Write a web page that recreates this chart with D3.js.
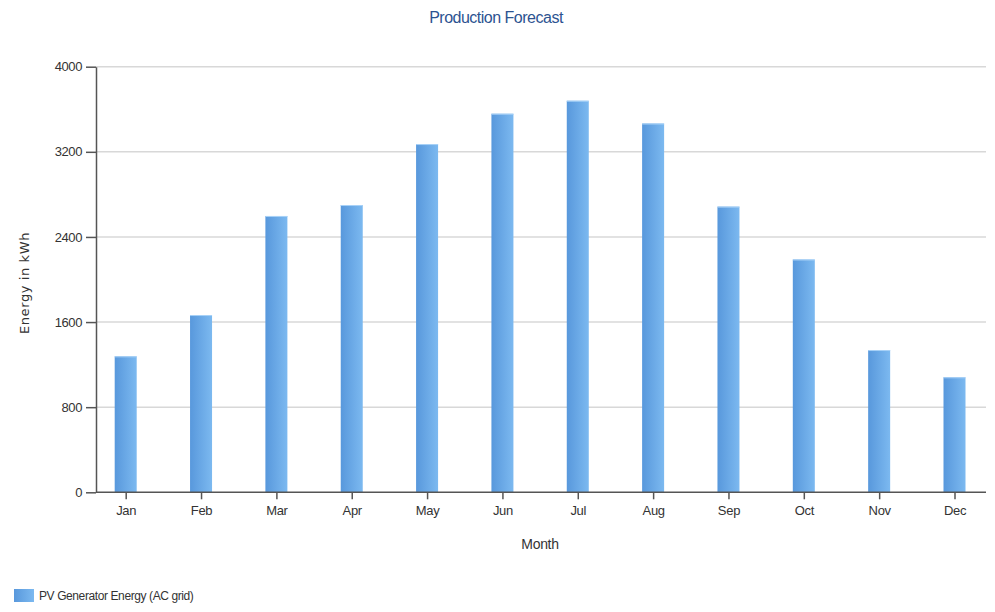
<!DOCTYPE html>
<html>
<head>
<meta charset="utf-8">
<script src="https://cdn.jsdelivr.net/npm/d3@7/dist/d3.min.js"></script>
<style>
  html, body { margin: 0; padding: 0; background: #fff; }
  svg { display: block; }
  text { font-family: "Liberation Sans", Arial, sans-serif; }
</style>
</head>
<body>
<svg id="chart" width="995" height="612"></svg>
<script>
// Monthly PV production forecast (kWh)
const months = ["Jan", "Feb", "Mar", "Apr", "May", "Jun", "Jul", "Aug", "Sep", "Oct", "Nov", "Dec"];
const energy = [1278, 1666, 2597, 2700, 3273, 3558, 3680, 3466, 2685, 2188, 1337, 1081];
const yTicks = [0, 800, 1600, 2400, 3200, 4000];
const titleText = "Production Forecast";
const yTitle = "Energy in kWh";
const xTitle = "Month";
const seriesName = "PV Generator Energy (AC grid)";

const svg = d3.select("#chart");
const plot = { left: 96, right: 986, top: 66.7, bottom: 492.3 };
const labelFont = "\"Liberation Sans\", Arial, sans-serif";

const defs = svg.append("defs");
const grad = defs.append("linearGradient").attr("id", "barGrad")
  .attr("x1", "0%").attr("x2", "100%").attr("y1", "0%").attr("y2", "0%");
grad.append("stop").attr("offset", "0%").attr("stop-color", "#5898dc");
grad.append("stop").attr("offset", "100%").attr("stop-color", "#7cb9f0");

const x = d3.scalePoint().domain(months).range([125.7, 954.5]);
const y = d3.scaleLinear().domain([0, 4000]).range([plot.bottom, plot.top]);
const barW = 22;

// Horizontal gridlines
svg.append("g").selectAll("line").data(yTicks.filter(d => d > 0)).join("line")
  .attr("x1", plot.left).attr("x2", plot.right)
  .attr("y1", d => y(d)).attr("y2", d => y(d))
  .attr("stroke", "#d8d8d8").attr("stroke-width", 1.5);

// Bars
svg.append("g").selectAll("rect").data(months).join("rect")
  .attr("x", (d) => x(d) - barW / 2)
  .attr("y", (d, i) => y(energy[i]))
  .attr("width", barW)
  .attr("height", (d, i) => plot.bottom - y(energy[i]))
  .attr("fill", "url(#barGrad)");
svg.append("g").selectAll("line").data(months).join("line")
  .attr("x1", d => x(d) - barW / 2).attr("x2", d => x(d) + barW / 2)
  .attr("y1", (d, i) => y(energy[i]) + 0.5).attr("y2", (d, i) => y(energy[i]) + 0.5)
  .attr("stroke", "#a9d2f7").attr("stroke-width", 1);

// Y axis
const yAxis = svg.append("g").attr("transform", `translate(${plot.left},0)`)
  .call(d3.axisLeft(y).tickValues(yTicks).tickFormat(d3.format("d"))
    .tickSize(10).tickPadding(4).tickSizeOuter(0));
yAxis.select(".domain").attr("stroke", "#555").attr("stroke-width", 1.5);
yAxis.selectAll(".tick line").attr("stroke", "#555").attr("stroke-width", 1.5);
yAxis.selectAll(".tick text").attr("fill", "#333").attr("font-size", 13)
  .attr("letter-spacing", -0.4).attr("font-family", labelFont);

// X axis
const xAxis = svg.append("g").attr("transform", `translate(0,${plot.bottom})`)
  .call(d3.axisBottom(x).tickSize(7).tickPadding(6).tickSizeOuter(0));
xAxis.select(".domain").attr("d", `M${plot.left},0H${plot.right}`)
  .attr("stroke", "#555").attr("stroke-width", 1.5);
xAxis.selectAll(".tick line").attr("stroke", "#555").attr("stroke-width", 1.5);
xAxis.selectAll(".tick text").attr("fill", "#333").attr("font-size", 13)
  .attr("letter-spacing", -0.3).attr("font-family", labelFont);

// Titles
svg.append("text").attr("x", 496).attr("y", 23).attr("text-anchor", "middle")
  .attr("fill", "#2d5391").attr("font-size", 16).attr("letter-spacing", -0.5).text(titleText);
svg.append("text").attr("x", 540).attr("y", 549).attr("text-anchor", "middle")
  .attr("fill", "#333").attr("font-size", 14).attr("letter-spacing", -0.3).text(xTitle);
svg.append("text").attr("transform", "translate(29,283) rotate(-90)").attr("text-anchor", "middle")
  .attr("fill", "#333").attr("font-size", 13).attr("letter-spacing", 0.6)
  .style("font-family", "\"DejaVu Sans\", sans-serif")
  .text(yTitle);

// Legend
const legend = svg.append("g").attr("transform", "translate(14,589)");
legend.append("rect").attr("width", 20).attr("height", 13).attr("fill", "url(#barGrad)");
legend.append("text").attr("x", 25).attr("y", 11).attr("fill", "#333").attr("font-size", 12)
  .attr("letter-spacing", -0.4).text(seriesName);
</script>
</body>
</html>
